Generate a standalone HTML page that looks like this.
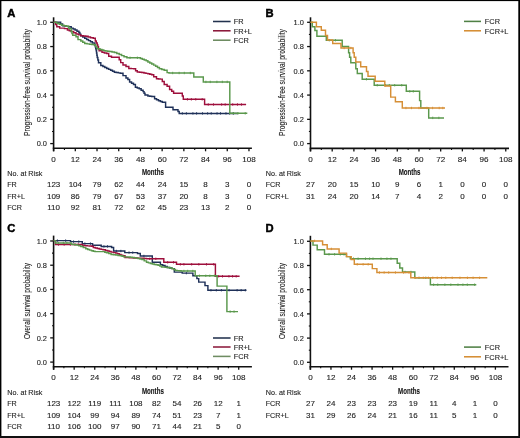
<!DOCTYPE html><html><head><meta charset="utf-8"><style>html,body{margin:0;padding:0;background:#fff;}svg{display:block;filter:blur(0.42px);}</style></head><body>
<svg width="520" height="438" viewBox="0 0 520 438" font-family='"Liberation Sans", sans-serif'><style>text{stroke:#1e1e1e;stroke-width:0.12px;}</style>
<rect x="0" y="0" width="520" height="438" fill="#fff"/>
<g stroke="#111" fill="none">
<line x1="53.60" y1="17.30" x2="53.60" y2="151.30" stroke-width="1.6"/>
<line x1="52.80" y1="148.30" x2="251.90" y2="148.30" stroke-width="1.6"/>
<line x1="50.20" y1="143.60" x2="53.60" y2="143.60" stroke-width="1.3"/>
<line x1="52.00" y1="131.47" x2="53.60" y2="131.47" stroke-width="1.1"/>
<line x1="50.20" y1="119.34" x2="53.60" y2="119.34" stroke-width="1.3"/>
<line x1="52.00" y1="107.21" x2="53.60" y2="107.21" stroke-width="1.1"/>
<line x1="50.20" y1="95.08" x2="53.60" y2="95.08" stroke-width="1.3"/>
<line x1="52.00" y1="82.95" x2="53.60" y2="82.95" stroke-width="1.1"/>
<line x1="50.20" y1="70.82" x2="53.60" y2="70.82" stroke-width="1.3"/>
<line x1="52.00" y1="58.69" x2="53.60" y2="58.69" stroke-width="1.1"/>
<line x1="50.20" y1="46.56" x2="53.60" y2="46.56" stroke-width="1.3"/>
<line x1="52.00" y1="34.43" x2="53.60" y2="34.43" stroke-width="1.1"/>
<line x1="50.20" y1="22.30" x2="53.60" y2="22.30" stroke-width="1.3"/>
<line x1="53.60" y1="148.30" x2="53.60" y2="151.30" stroke-width="1.3"/>
<line x1="64.45" y1="148.30" x2="64.45" y2="149.90" stroke-width="1.1"/>
<line x1="75.31" y1="148.30" x2="75.31" y2="151.30" stroke-width="1.3"/>
<line x1="86.16" y1="148.30" x2="86.16" y2="149.90" stroke-width="1.1"/>
<line x1="97.02" y1="148.30" x2="97.02" y2="151.30" stroke-width="1.3"/>
<line x1="107.87" y1="148.30" x2="107.87" y2="149.90" stroke-width="1.1"/>
<line x1="118.72" y1="148.30" x2="118.72" y2="151.30" stroke-width="1.3"/>
<line x1="129.58" y1="148.30" x2="129.58" y2="149.90" stroke-width="1.1"/>
<line x1="140.43" y1="148.30" x2="140.43" y2="151.30" stroke-width="1.3"/>
<line x1="151.29" y1="148.30" x2="151.29" y2="149.90" stroke-width="1.1"/>
<line x1="162.14" y1="148.30" x2="162.14" y2="151.30" stroke-width="1.3"/>
<line x1="172.99" y1="148.30" x2="172.99" y2="149.90" stroke-width="1.1"/>
<line x1="183.85" y1="148.30" x2="183.85" y2="151.30" stroke-width="1.3"/>
<line x1="194.70" y1="148.30" x2="194.70" y2="149.90" stroke-width="1.1"/>
<line x1="205.56" y1="148.30" x2="205.56" y2="151.30" stroke-width="1.3"/>
<line x1="216.41" y1="148.30" x2="216.41" y2="149.90" stroke-width="1.1"/>
<line x1="227.26" y1="148.30" x2="227.26" y2="151.30" stroke-width="1.3"/>
<line x1="238.12" y1="148.30" x2="238.12" y2="149.90" stroke-width="1.1"/>
<line x1="248.97" y1="148.30" x2="248.97" y2="151.30" stroke-width="1.3"/>
</g>
<text transform="translate(47.00,146.45) scale(0.930,1)" font-size="8.00" text-anchor="end" fill="#1e1e1e">0.0</text>
<text transform="translate(47.00,122.19) scale(0.930,1)" font-size="8.00" text-anchor="end" fill="#1e1e1e">0.2</text>
<text transform="translate(47.00,97.93) scale(0.930,1)" font-size="8.00" text-anchor="end" fill="#1e1e1e">0.4</text>
<text transform="translate(47.00,73.67) scale(0.930,1)" font-size="8.00" text-anchor="end" fill="#1e1e1e">0.6</text>
<text transform="translate(47.00,49.41) scale(0.930,1)" font-size="8.00" text-anchor="end" fill="#1e1e1e">0.8</text>
<text transform="translate(47.00,25.15) scale(0.930,1)" font-size="8.00" text-anchor="end" fill="#1e1e1e">1.0</text>
<text transform="translate(53.60,161.80) scale(1.000,1)" font-size="8.10" text-anchor="middle" fill="#1e1e1e">0</text>
<text transform="translate(75.31,161.80) scale(1.000,1)" font-size="8.10" text-anchor="middle" fill="#1e1e1e">12</text>
<text transform="translate(97.02,161.80) scale(1.000,1)" font-size="8.10" text-anchor="middle" fill="#1e1e1e">24</text>
<text transform="translate(118.72,161.80) scale(1.000,1)" font-size="8.10" text-anchor="middle" fill="#1e1e1e">36</text>
<text transform="translate(140.43,161.80) scale(1.000,1)" font-size="8.10" text-anchor="middle" fill="#1e1e1e">48</text>
<text transform="translate(162.14,161.80) scale(1.000,1)" font-size="8.10" text-anchor="middle" fill="#1e1e1e">60</text>
<text transform="translate(183.85,161.80) scale(1.000,1)" font-size="8.10" text-anchor="middle" fill="#1e1e1e">72</text>
<text transform="translate(205.56,161.80) scale(1.000,1)" font-size="8.10" text-anchor="middle" fill="#1e1e1e">84</text>
<text transform="translate(227.26,161.80) scale(1.000,1)" font-size="8.10" text-anchor="middle" fill="#1e1e1e">96</text>
<text transform="translate(248.97,161.80) scale(1.000,1)" font-size="8.10" text-anchor="middle" fill="#1e1e1e">108</text>
<text transform="translate(7.30,17.00) scale(1.07,1)" font-size="10.5" font-weight="bold" fill="#000" style="stroke:#000;stroke-width:0.45px">A</text>
<text transform="translate(30.20,82.60) rotate(-90) scale(0.765,1)" font-size="8.8" text-anchor="middle" fill="#1e1e1e">Progression-free survival probability</text>
<path d="M182.35,112.20v2.4M186.39,112.20v2.4M192.92,112.20v2.4M196.58,112.20v2.4M202.53,112.20v2.4M207.64,112.20v2.4M211.22,112.20v2.4M217.04,112.20v2.4M220.52,112.20v2.4M225.97,112.20v2.4M229.61,112.20v2.4M233.36,112.20v2.4" stroke="#1f3159" stroke-width="0.9" fill="none"/>
<path d="M53.60,22.30 L58.70,22.30 L60.65,22.30 L60.65,24.00 L62.60,24.00 L62.60,25.70 L64.50,25.70 L64.50,26.03 L66.40,26.03 L66.40,26.37 L68.30,26.37 L68.30,26.70 L71.20,26.70 L71.20,28.10 L73.15,28.10 L73.15,29.05 L75.10,29.05 L75.10,30.00 L77.00,30.00 L77.00,31.20 L78.90,31.20 L78.90,32.40 L79.85,32.40 L79.85,34.10 L80.80,34.10 L80.80,35.80 L82.75,35.80 L82.75,37.00 L84.70,37.00 L84.70,38.20 L86.60,38.20 L86.60,39.40 L88.50,39.40 L88.50,40.60 L90.45,40.60 L90.45,41.80 L92.40,41.80 L92.40,43.00 L94.80,43.00 L94.80,44.90 L95.27,44.90 L95.27,46.83 L95.73,46.83 L95.73,48.77 L96.20,48.77 L96.20,50.70 L96.53,50.70 L96.53,52.93 L96.87,52.93 L96.87,55.17 L97.20,55.17 L97.20,57.40 L97.85,57.40 L97.85,60.05 L98.50,60.05 L98.50,62.70 L100.80,62.70 L100.80,65.50 L102.90,65.50 L102.90,66.40 L104.80,66.40 L104.80,67.40 L106.70,67.40 L106.70,68.40 L108.65,68.40 L108.65,69.35 L110.60,69.35 L110.60,70.30 L112.50,70.30 L112.50,71.25 L114.40,71.25 L114.40,72.20 L116.33,72.20 L116.33,72.53 L118.27,72.53 L118.27,72.87 L120.20,72.87 L120.20,73.20 L123.00,73.20 L123.00,75.60 L126.00,75.60 L126.00,78.00 L127.90,78.00 L127.90,79.40 L129.60,79.40 L129.60,82.00 L131.55,82.00 L131.55,83.20 L133.50,83.20 L133.50,84.40 L135.40,84.40 L135.40,87.30 L137.30,87.30 L137.30,88.05 L139.20,88.05 L139.20,88.80 L141.15,88.80 L141.15,90.20 L143.10,90.20 L143.10,91.60 L144.05,91.60 L144.05,93.30 L145.00,93.30 L145.00,95.00 L147.90,95.00 L147.90,96.00 L149.80,96.00 L149.80,96.20 L151.70,96.20 L151.70,96.40 L154.60,96.40 L154.60,98.80 L156.55,98.80 L156.55,99.80 L158.50,99.80 L158.50,100.80 L160.40,100.80 L160.40,101.50 L162.30,101.50 L162.30,102.20 L165.60,102.20 L165.60,107.30 L173.00,107.30 L173.00,109.70 L176.80,109.70 L178.00,109.70 L178.00,111.55 L179.20,111.55 L179.20,113.40 L238.00,113.40" fill="none" stroke="#1f3159" stroke-width="1.45" stroke-linejoin="miter" stroke-linecap="butt"/>
<path d="M187.45,98.10v2.4M191.37,98.10v2.4M195.77,98.10v2.4M202.18,98.10v2.4M208.25,103.30v2.4M213.52,103.30v2.4M221.65,103.30v2.4M225.18,103.30v2.4M232.73,103.30v2.4M237.46,103.30v2.4M241.48,103.30v2.4" stroke="#9e0f3c" stroke-width="0.9" fill="none"/>
<path d="M53.60,22.30 L54.50,22.30 L55.65,22.30 L55.65,24.50 L56.80,24.50 L56.80,26.70 L59.70,26.70 L59.70,28.10 L62.10,28.10 L64.50,28.10 L64.50,28.60 L67.40,28.60 L67.40,30.00 L69.30,30.00 L69.30,30.75 L71.20,30.75 L71.20,31.50 L73.60,31.50 L73.60,32.70 L76.00,32.70 L76.00,33.90 L78.40,33.90 L78.40,34.85 L80.80,34.85 L80.80,35.80 L83.25,35.80 L83.25,36.05 L85.70,36.05 L85.70,36.30 L88.10,36.30 L88.10,37.00 L90.50,37.00 L90.50,37.70 L93.30,37.70 L93.30,38.20 L95.30,38.20 L95.30,41.00 L96.25,41.00 L96.25,42.95 L97.20,42.95 L97.20,44.90 L97.83,44.90 L97.83,46.83 L98.47,46.83 L98.47,48.77 L99.10,48.77 L99.10,50.70 L102.00,50.70 L102.00,52.30 L104.35,52.30 L104.35,52.90 L106.70,52.90 L106.70,53.50 L108.70,53.50 L108.70,56.30 L111.50,56.30 L111.50,57.30 L117.80,57.30 L119.20,57.30 L119.20,59.70 L120.70,59.70 L120.70,62.60 L123.00,62.60 L123.00,65.00 L126.00,65.00 L126.00,66.40 L128.80,66.40 L128.80,68.40 L131.25,68.40 L131.25,68.60 L133.70,68.60 L133.70,68.80 L135.60,68.80 L135.60,70.80 L137.30,70.80 L137.30,71.90 L139.53,71.90 L139.53,72.23 L141.77,72.23 L141.77,72.57 L144.00,72.57 L144.00,72.90 L145.95,72.90 L145.95,73.35 L147.90,73.35 L147.90,73.80 L149.80,73.80 L149.80,74.30 L151.70,74.30 L151.70,74.80 L153.70,74.80 L153.70,76.70 L156.50,76.70 L156.50,78.70 L158.45,78.70 L158.45,78.90 L160.40,78.90 L160.40,79.10 L162.30,79.10 L162.30,81.50 L164.20,81.50 L164.20,84.40 L167.10,84.40 L167.10,86.30 L169.60,86.30 L169.60,89.50 L171.70,89.50 L171.70,91.20 L173.60,91.20 L173.60,93.30 L181.50,93.30 L182.30,93.30 L182.30,96.00 L183.30,96.00 L183.30,99.30 L204.60,99.30 L204.60,104.50 L246.10,104.50" fill="none" stroke="#9e0f3c" stroke-width="1.45" stroke-linejoin="miter" stroke-linecap="butt"/>
<path d="M130.02,56.60v2.4M137.36,56.60v2.4M172.66,71.80v2.4M179.13,71.80v2.4M184.27,71.80v2.4M190.28,71.80v2.4M205.92,80.70v2.4M210.24,80.70v2.4M216.91,80.70v2.4M222.32,80.70v2.4M227.18,80.70v2.4M233.21,112.10v2.4M237.99,112.10v2.4M245.22,112.10v2.4" stroke="#5a984c" stroke-width="0.9" fill="none"/>
<path d="M53.60,22.30 L56.80,22.30 L56.80,23.30 L59.20,23.30 L59.20,24.25 L61.60,24.25 L61.60,25.20 L64.00,25.20 L64.00,25.70 L66.40,25.70 L66.40,26.20 L68.80,26.20 L68.80,28.60 L71.20,28.60 L71.20,31.50 L71.95,31.50 L71.95,33.40 L72.70,33.40 L72.70,35.30 L76.00,35.30 L76.00,36.80 L78.00,36.80 L78.00,39.60 L80.80,39.60 L80.80,41.00 L82.75,41.00 L82.75,42.25 L84.70,42.25 L84.70,43.50 L87.10,43.50 L87.10,43.85 L89.50,43.85 L89.50,44.20 L91.90,44.20 L91.90,44.55 L94.30,44.55 L94.30,44.90 L95.75,44.90 L95.75,46.85 L97.20,46.85 L97.20,48.80 L100.00,48.80 L100.00,49.50 L101.90,49.50 L101.90,50.05 L103.80,50.05 L103.80,50.60 L105.73,50.60 L105.73,50.90 L107.67,50.90 L107.67,51.20 L109.60,51.20 L109.60,51.50 L112.00,51.50 L112.00,52.00 L114.40,52.00 L114.40,52.50 L116.80,52.50 L116.80,53.45 L119.20,53.45 L119.20,54.40 L121.60,54.40 L121.60,55.60 L124.00,55.60 L124.00,56.80 L126.90,56.80 L126.90,57.80 L138.50,57.80 L140.40,57.80 L140.40,58.50 L142.30,58.50 L142.30,59.20 L144.25,59.20 L144.25,59.95 L146.20,59.95 L146.20,60.70 L147.90,60.70 L147.90,62.00 L149.80,62.00 L149.80,62.95 L151.70,62.95 L151.70,63.90 L153.65,63.90 L153.65,65.10 L155.60,65.10 L155.60,66.30 L157.50,66.30 L157.50,67.55 L159.40,67.55 L159.40,68.80 L161.80,68.80 L161.80,69.50 L164.20,69.50 L164.20,70.20 L167.10,70.20 L167.10,72.60 L169.00,72.60 L169.00,73.00 L193.80,73.00 L193.80,76.90 L203.30,76.90 L203.30,81.90 L229.80,81.90 L229.80,113.30 L247.30,113.30" fill="none" stroke="#5a984c" stroke-width="1.45" stroke-linejoin="miter" stroke-linecap="butt"/>
<line x1="213.00" y1="21.50" x2="230.60" y2="21.50" stroke="#22324e" stroke-width="1.55"/>
<text transform="translate(233.70,24.25) scale(0.937,1)" font-size="7.90" text-anchor="start" fill="#1e1e1e">FR</text>
<line x1="213.00" y1="30.80" x2="230.60" y2="30.80" stroke="#8c1a3c" stroke-width="1.55"/>
<text transform="translate(233.70,33.55) scale(0.937,1)" font-size="7.90" text-anchor="start" fill="#1e1e1e">FR+L</text>
<line x1="213.00" y1="40.20" x2="230.60" y2="40.20" stroke="#6e8c62" stroke-width="1.55"/>
<text transform="translate(233.70,42.95) scale(0.937,1)" font-size="7.90" text-anchor="start" fill="#1e1e1e">FCR</text>
<text transform="translate(7.20,175.60) scale(0.911,1)" font-size="7.90" text-anchor="start" fill="#1e1e1e">No. at Risk</text>
<text transform="translate(152.90,174.60) scale(0.64,1)" font-size="9.6" font-weight="bold" text-anchor="middle" fill="#111">Months</text>
<text transform="translate(7.20,187.15) scale(0.911,1)" font-size="7.90" text-anchor="start" fill="#1e1e1e">FR</text>
<text transform="translate(53.60,187.15) scale(1.000,1)" font-size="8.00" text-anchor="middle" fill="#1e1e1e">123</text>
<text transform="translate(75.31,187.15) scale(1.000,1)" font-size="8.00" text-anchor="middle" fill="#1e1e1e">104</text>
<text transform="translate(97.02,187.15) scale(1.000,1)" font-size="8.00" text-anchor="middle" fill="#1e1e1e">79</text>
<text transform="translate(118.72,187.15) scale(1.000,1)" font-size="8.00" text-anchor="middle" fill="#1e1e1e">62</text>
<text transform="translate(140.43,187.15) scale(1.000,1)" font-size="8.00" text-anchor="middle" fill="#1e1e1e">44</text>
<text transform="translate(162.14,187.15) scale(1.000,1)" font-size="8.00" text-anchor="middle" fill="#1e1e1e">24</text>
<text transform="translate(183.85,187.15) scale(1.000,1)" font-size="8.00" text-anchor="middle" fill="#1e1e1e">15</text>
<text transform="translate(205.56,187.15) scale(1.000,1)" font-size="8.00" text-anchor="middle" fill="#1e1e1e">8</text>
<text transform="translate(227.26,187.15) scale(1.000,1)" font-size="8.00" text-anchor="middle" fill="#1e1e1e">3</text>
<text transform="translate(248.97,187.15) scale(1.000,1)" font-size="8.00" text-anchor="middle" fill="#1e1e1e">0</text>
<text transform="translate(7.20,198.70) scale(0.911,1)" font-size="7.90" text-anchor="start" fill="#1e1e1e">FR+L</text>
<text transform="translate(53.60,198.70) scale(1.000,1)" font-size="8.00" text-anchor="middle" fill="#1e1e1e">109</text>
<text transform="translate(75.31,198.70) scale(1.000,1)" font-size="8.00" text-anchor="middle" fill="#1e1e1e">86</text>
<text transform="translate(97.02,198.70) scale(1.000,1)" font-size="8.00" text-anchor="middle" fill="#1e1e1e">79</text>
<text transform="translate(118.72,198.70) scale(1.000,1)" font-size="8.00" text-anchor="middle" fill="#1e1e1e">67</text>
<text transform="translate(140.43,198.70) scale(1.000,1)" font-size="8.00" text-anchor="middle" fill="#1e1e1e">53</text>
<text transform="translate(162.14,198.70) scale(1.000,1)" font-size="8.00" text-anchor="middle" fill="#1e1e1e">37</text>
<text transform="translate(183.85,198.70) scale(1.000,1)" font-size="8.00" text-anchor="middle" fill="#1e1e1e">20</text>
<text transform="translate(205.56,198.70) scale(1.000,1)" font-size="8.00" text-anchor="middle" fill="#1e1e1e">8</text>
<text transform="translate(227.26,198.70) scale(1.000,1)" font-size="8.00" text-anchor="middle" fill="#1e1e1e">3</text>
<text transform="translate(248.97,198.70) scale(1.000,1)" font-size="8.00" text-anchor="middle" fill="#1e1e1e">0</text>
<text transform="translate(7.20,210.25) scale(0.911,1)" font-size="7.90" text-anchor="start" fill="#1e1e1e">FCR</text>
<text transform="translate(53.60,210.25) scale(1.000,1)" font-size="8.00" text-anchor="middle" fill="#1e1e1e">110</text>
<text transform="translate(75.31,210.25) scale(1.000,1)" font-size="8.00" text-anchor="middle" fill="#1e1e1e">92</text>
<text transform="translate(97.02,210.25) scale(1.000,1)" font-size="8.00" text-anchor="middle" fill="#1e1e1e">81</text>
<text transform="translate(118.72,210.25) scale(1.000,1)" font-size="8.00" text-anchor="middle" fill="#1e1e1e">72</text>
<text transform="translate(140.43,210.25) scale(1.000,1)" font-size="8.00" text-anchor="middle" fill="#1e1e1e">62</text>
<text transform="translate(162.14,210.25) scale(1.000,1)" font-size="8.00" text-anchor="middle" fill="#1e1e1e">45</text>
<text transform="translate(183.85,210.25) scale(1.000,1)" font-size="8.00" text-anchor="middle" fill="#1e1e1e">23</text>
<text transform="translate(205.56,210.25) scale(1.000,1)" font-size="8.00" text-anchor="middle" fill="#1e1e1e">13</text>
<text transform="translate(227.26,210.25) scale(1.000,1)" font-size="8.00" text-anchor="middle" fill="#1e1e1e">2</text>
<text transform="translate(248.97,210.25) scale(1.000,1)" font-size="8.00" text-anchor="middle" fill="#1e1e1e">0</text>
<g stroke="#111" fill="none">
<line x1="310.50" y1="17.30" x2="310.50" y2="151.40" stroke-width="1.6"/>
<line x1="309.70" y1="148.40" x2="509.00" y2="148.40" stroke-width="1.6"/>
<line x1="307.10" y1="143.60" x2="310.50" y2="143.60" stroke-width="1.3"/>
<line x1="308.90" y1="131.47" x2="310.50" y2="131.47" stroke-width="1.1"/>
<line x1="307.10" y1="119.34" x2="310.50" y2="119.34" stroke-width="1.3"/>
<line x1="308.90" y1="107.21" x2="310.50" y2="107.21" stroke-width="1.1"/>
<line x1="307.10" y1="95.08" x2="310.50" y2="95.08" stroke-width="1.3"/>
<line x1="308.90" y1="82.95" x2="310.50" y2="82.95" stroke-width="1.1"/>
<line x1="307.10" y1="70.82" x2="310.50" y2="70.82" stroke-width="1.3"/>
<line x1="308.90" y1="58.69" x2="310.50" y2="58.69" stroke-width="1.1"/>
<line x1="307.10" y1="46.56" x2="310.50" y2="46.56" stroke-width="1.3"/>
<line x1="308.90" y1="34.43" x2="310.50" y2="34.43" stroke-width="1.1"/>
<line x1="307.10" y1="22.30" x2="310.50" y2="22.30" stroke-width="1.3"/>
<line x1="310.50" y1="148.40" x2="310.50" y2="151.40" stroke-width="1.3"/>
<line x1="321.35" y1="148.40" x2="321.35" y2="150.00" stroke-width="1.1"/>
<line x1="332.20" y1="148.40" x2="332.20" y2="151.40" stroke-width="1.3"/>
<line x1="343.04" y1="148.40" x2="343.04" y2="150.00" stroke-width="1.1"/>
<line x1="353.89" y1="148.40" x2="353.89" y2="151.40" stroke-width="1.3"/>
<line x1="364.74" y1="148.40" x2="364.74" y2="150.00" stroke-width="1.1"/>
<line x1="375.59" y1="148.40" x2="375.59" y2="151.40" stroke-width="1.3"/>
<line x1="386.44" y1="148.40" x2="386.44" y2="150.00" stroke-width="1.1"/>
<line x1="397.28" y1="148.40" x2="397.28" y2="151.40" stroke-width="1.3"/>
<line x1="408.13" y1="148.40" x2="408.13" y2="150.00" stroke-width="1.1"/>
<line x1="418.98" y1="148.40" x2="418.98" y2="151.40" stroke-width="1.3"/>
<line x1="429.83" y1="148.40" x2="429.83" y2="150.00" stroke-width="1.1"/>
<line x1="440.68" y1="148.40" x2="440.68" y2="151.40" stroke-width="1.3"/>
<line x1="451.52" y1="148.40" x2="451.52" y2="150.00" stroke-width="1.1"/>
<line x1="462.37" y1="148.40" x2="462.37" y2="151.40" stroke-width="1.3"/>
<line x1="473.22" y1="148.40" x2="473.22" y2="150.00" stroke-width="1.1"/>
<line x1="484.07" y1="148.40" x2="484.07" y2="151.40" stroke-width="1.3"/>
<line x1="494.92" y1="148.40" x2="494.92" y2="150.00" stroke-width="1.1"/>
<line x1="505.76" y1="148.40" x2="505.76" y2="151.40" stroke-width="1.3"/>
</g>
<text transform="translate(303.90,146.45) scale(0.930,1)" font-size="8.00" text-anchor="end" fill="#1e1e1e">0.0</text>
<text transform="translate(303.90,122.19) scale(0.930,1)" font-size="8.00" text-anchor="end" fill="#1e1e1e">0.2</text>
<text transform="translate(303.90,97.93) scale(0.930,1)" font-size="8.00" text-anchor="end" fill="#1e1e1e">0.4</text>
<text transform="translate(303.90,73.67) scale(0.930,1)" font-size="8.00" text-anchor="end" fill="#1e1e1e">0.6</text>
<text transform="translate(303.90,49.41) scale(0.930,1)" font-size="8.00" text-anchor="end" fill="#1e1e1e">0.8</text>
<text transform="translate(303.90,25.15) scale(0.930,1)" font-size="8.00" text-anchor="end" fill="#1e1e1e">1.0</text>
<text transform="translate(310.50,161.80) scale(1.000,1)" font-size="8.10" text-anchor="middle" fill="#1e1e1e">0</text>
<text transform="translate(332.20,161.80) scale(1.000,1)" font-size="8.10" text-anchor="middle" fill="#1e1e1e">12</text>
<text transform="translate(353.89,161.80) scale(1.000,1)" font-size="8.10" text-anchor="middle" fill="#1e1e1e">24</text>
<text transform="translate(375.59,161.80) scale(1.000,1)" font-size="8.10" text-anchor="middle" fill="#1e1e1e">36</text>
<text transform="translate(397.28,161.80) scale(1.000,1)" font-size="8.10" text-anchor="middle" fill="#1e1e1e">48</text>
<text transform="translate(418.98,161.80) scale(1.000,1)" font-size="8.10" text-anchor="middle" fill="#1e1e1e">60</text>
<text transform="translate(440.68,161.80) scale(1.000,1)" font-size="8.10" text-anchor="middle" fill="#1e1e1e">72</text>
<text transform="translate(462.37,161.80) scale(1.000,1)" font-size="8.10" text-anchor="middle" fill="#1e1e1e">84</text>
<text transform="translate(484.07,161.80) scale(1.000,1)" font-size="8.10" text-anchor="middle" fill="#1e1e1e">96</text>
<text transform="translate(505.76,161.80) scale(1.000,1)" font-size="8.10" text-anchor="middle" fill="#1e1e1e">108</text>
<text transform="translate(265.60,17.00) scale(1.07,1)" font-size="10.5" font-weight="bold" fill="#000" style="stroke:#000;stroke-width:0.45px">B</text>
<text transform="translate(285.20,82.60) rotate(-90) scale(0.765,1)" font-size="8.8" text-anchor="middle" fill="#1e1e1e">Progression-free survival probability</text>
<path d="M329.29,39.00v2.4M335.43,39.00v2.4M366.45,78.00v2.4M377.28,84.00v2.4M385.43,84.00v2.4M389.31,84.00v2.4M394.68,84.00v2.4M401.73,84.00v2.4M409.78,90.10v2.4M413.27,90.10v2.4M432.73,116.70v2.4M438.87,116.70v2.4" stroke="#5a984c" stroke-width="0.9" fill="none"/>
<path d="M310.50,22.30 L312.30,22.30 L312.30,26.70 L314.90,26.70 L314.90,30.40 L316.90,30.40 L316.90,36.30 L326.30,36.30 L326.30,40.20 L342.20,40.20 L342.20,46.50 L348.60,46.50 L348.60,52.70 L349.60,52.70 L349.60,57.30 L350.80,57.30 L350.80,62.70 L355.80,62.70 L355.80,68.80 L357.30,68.80 L357.30,73.50 L362.20,73.50 L362.20,79.20 L374.20,79.20 L374.20,85.20 L406.30,85.20 L406.30,91.30 L419.60,91.30 L419.60,100.60 L420.80,100.60 L420.80,108.00 L428.70,108.00 L428.70,117.90 L444.00,117.90" fill="none" stroke="#5a984c" stroke-width="1.45" stroke-linejoin="miter" stroke-linecap="butt"/>
<path d="M344.13,46.80v2.4M350.87,46.80v2.4M405.96,106.80v2.4M411.52,106.80v2.4M418.98,106.80v2.4M426.95,106.80v2.4M432.60,106.80v2.4M439.19,106.80v2.4M442.79,106.80v2.4" stroke="#d68f36" stroke-width="0.9" fill="none"/>
<path d="M310.50,22.30 L316.40,22.30 L316.40,26.70 L321.30,26.70 L321.30,30.30 L325.50,30.30 L325.50,35.50 L327.50,35.50 L327.50,39.90 L332.70,39.90 L332.70,43.40 L341.00,43.40 L341.00,48.00 L353.10,48.00 L353.10,52.70 L354.20,52.70 L354.20,57.30 L355.80,57.30 L355.80,61.90 L360.70,61.90 L360.70,66.70 L366.50,66.70 L366.50,71.50 L368.00,71.50 L368.00,76.30 L375.20,76.30 L375.20,81.20 L384.80,81.20 L384.80,85.90 L390.70,85.90 L390.70,97.10 L395.40,97.10 L395.40,101.70 L402.30,101.70 L402.30,108.00 L445.00,108.00" fill="none" stroke="#d68f36" stroke-width="1.45" stroke-linejoin="miter" stroke-linecap="butt"/>
<line x1="464.00" y1="21.40" x2="481.00" y2="21.40" stroke="#4f8045" stroke-width="1.55"/>
<text transform="translate(484.80,24.15) scale(0.937,1)" font-size="7.90" text-anchor="start" fill="#1e1e1e">FCR</text>
<line x1="464.00" y1="30.80" x2="481.00" y2="30.80" stroke="#d68f36" stroke-width="1.55"/>
<text transform="translate(484.80,33.55) scale(0.937,1)" font-size="7.90" text-anchor="start" fill="#1e1e1e">FCR+L</text>
<text transform="translate(265.70,175.60) scale(0.911,1)" font-size="7.90" text-anchor="start" fill="#1e1e1e">No. at Risk</text>
<text transform="translate(409.60,174.60) scale(0.64,1)" font-size="9.6" font-weight="bold" text-anchor="middle" fill="#111">Months</text>
<text transform="translate(265.70,187.15) scale(0.911,1)" font-size="7.90" text-anchor="start" fill="#1e1e1e">FCR</text>
<text transform="translate(310.50,187.15) scale(1.000,1)" font-size="8.00" text-anchor="middle" fill="#1e1e1e">27</text>
<text transform="translate(332.20,187.15) scale(1.000,1)" font-size="8.00" text-anchor="middle" fill="#1e1e1e">20</text>
<text transform="translate(353.89,187.15) scale(1.000,1)" font-size="8.00" text-anchor="middle" fill="#1e1e1e">15</text>
<text transform="translate(375.59,187.15) scale(1.000,1)" font-size="8.00" text-anchor="middle" fill="#1e1e1e">10</text>
<text transform="translate(397.28,187.15) scale(1.000,1)" font-size="8.00" text-anchor="middle" fill="#1e1e1e">9</text>
<text transform="translate(418.98,187.15) scale(1.000,1)" font-size="8.00" text-anchor="middle" fill="#1e1e1e">6</text>
<text transform="translate(440.68,187.15) scale(1.000,1)" font-size="8.00" text-anchor="middle" fill="#1e1e1e">1</text>
<text transform="translate(462.37,187.15) scale(1.000,1)" font-size="8.00" text-anchor="middle" fill="#1e1e1e">0</text>
<text transform="translate(484.07,187.15) scale(1.000,1)" font-size="8.00" text-anchor="middle" fill="#1e1e1e">0</text>
<text transform="translate(505.76,187.15) scale(1.000,1)" font-size="8.00" text-anchor="middle" fill="#1e1e1e">0</text>
<text transform="translate(265.70,198.70) scale(0.911,1)" font-size="7.90" text-anchor="start" fill="#1e1e1e">FCR+L</text>
<text transform="translate(310.50,198.70) scale(1.000,1)" font-size="8.00" text-anchor="middle" fill="#1e1e1e">31</text>
<text transform="translate(332.20,198.70) scale(1.000,1)" font-size="8.00" text-anchor="middle" fill="#1e1e1e">24</text>
<text transform="translate(353.89,198.70) scale(1.000,1)" font-size="8.00" text-anchor="middle" fill="#1e1e1e">20</text>
<text transform="translate(375.59,198.70) scale(1.000,1)" font-size="8.00" text-anchor="middle" fill="#1e1e1e">14</text>
<text transform="translate(397.28,198.70) scale(1.000,1)" font-size="8.00" text-anchor="middle" fill="#1e1e1e">7</text>
<text transform="translate(418.98,198.70) scale(1.000,1)" font-size="8.00" text-anchor="middle" fill="#1e1e1e">4</text>
<text transform="translate(440.68,198.70) scale(1.000,1)" font-size="8.00" text-anchor="middle" fill="#1e1e1e">2</text>
<text transform="translate(462.37,198.70) scale(1.000,1)" font-size="8.00" text-anchor="middle" fill="#1e1e1e">0</text>
<text transform="translate(484.07,198.70) scale(1.000,1)" font-size="8.00" text-anchor="middle" fill="#1e1e1e">0</text>
<text transform="translate(505.76,198.70) scale(1.000,1)" font-size="8.00" text-anchor="middle" fill="#1e1e1e">0</text>
<g stroke="#111" fill="none">
<line x1="53.60" y1="235.60" x2="53.60" y2="369.70" stroke-width="1.6"/>
<line x1="52.80" y1="366.70" x2="251.90" y2="366.70" stroke-width="1.6"/>
<line x1="50.20" y1="362.10" x2="53.60" y2="362.10" stroke-width="1.3"/>
<line x1="52.00" y1="349.99" x2="53.60" y2="349.99" stroke-width="1.1"/>
<line x1="50.20" y1="337.88" x2="53.60" y2="337.88" stroke-width="1.3"/>
<line x1="52.00" y1="325.77" x2="53.60" y2="325.77" stroke-width="1.1"/>
<line x1="50.20" y1="313.66" x2="53.60" y2="313.66" stroke-width="1.3"/>
<line x1="52.00" y1="301.55" x2="53.60" y2="301.55" stroke-width="1.1"/>
<line x1="50.20" y1="289.44" x2="53.60" y2="289.44" stroke-width="1.3"/>
<line x1="52.00" y1="277.33" x2="53.60" y2="277.33" stroke-width="1.1"/>
<line x1="50.20" y1="265.22" x2="53.60" y2="265.22" stroke-width="1.3"/>
<line x1="52.00" y1="253.11" x2="53.60" y2="253.11" stroke-width="1.1"/>
<line x1="50.20" y1="241.00" x2="53.60" y2="241.00" stroke-width="1.3"/>
<line x1="53.60" y1="366.70" x2="53.60" y2="369.70" stroke-width="1.3"/>
<line x1="63.88" y1="366.70" x2="63.88" y2="368.30" stroke-width="1.1"/>
<line x1="74.17" y1="366.70" x2="74.17" y2="369.70" stroke-width="1.3"/>
<line x1="84.45" y1="366.70" x2="84.45" y2="368.30" stroke-width="1.1"/>
<line x1="94.74" y1="366.70" x2="94.74" y2="369.70" stroke-width="1.3"/>
<line x1="105.02" y1="366.70" x2="105.02" y2="368.30" stroke-width="1.1"/>
<line x1="115.30" y1="366.70" x2="115.30" y2="369.70" stroke-width="1.3"/>
<line x1="125.59" y1="366.70" x2="125.59" y2="368.30" stroke-width="1.1"/>
<line x1="135.87" y1="366.70" x2="135.87" y2="369.70" stroke-width="1.3"/>
<line x1="146.16" y1="366.70" x2="146.16" y2="368.30" stroke-width="1.1"/>
<line x1="156.44" y1="366.70" x2="156.44" y2="369.70" stroke-width="1.3"/>
<line x1="166.72" y1="366.70" x2="166.72" y2="368.30" stroke-width="1.1"/>
<line x1="177.01" y1="366.70" x2="177.01" y2="369.70" stroke-width="1.3"/>
<line x1="187.29" y1="366.70" x2="187.29" y2="368.30" stroke-width="1.1"/>
<line x1="197.58" y1="366.70" x2="197.58" y2="369.70" stroke-width="1.3"/>
<line x1="207.86" y1="366.70" x2="207.86" y2="368.30" stroke-width="1.1"/>
<line x1="218.14" y1="366.70" x2="218.14" y2="369.70" stroke-width="1.3"/>
<line x1="228.43" y1="366.70" x2="228.43" y2="368.30" stroke-width="1.1"/>
<line x1="238.71" y1="366.70" x2="238.71" y2="369.70" stroke-width="1.3"/>
</g>
<text transform="translate(47.00,364.95) scale(0.930,1)" font-size="8.00" text-anchor="end" fill="#1e1e1e">0.0</text>
<text transform="translate(47.00,340.73) scale(0.930,1)" font-size="8.00" text-anchor="end" fill="#1e1e1e">0.2</text>
<text transform="translate(47.00,316.51) scale(0.930,1)" font-size="8.00" text-anchor="end" fill="#1e1e1e">0.4</text>
<text transform="translate(47.00,292.29) scale(0.930,1)" font-size="8.00" text-anchor="end" fill="#1e1e1e">0.6</text>
<text transform="translate(47.00,268.07) scale(0.930,1)" font-size="8.00" text-anchor="end" fill="#1e1e1e">0.8</text>
<text transform="translate(47.00,243.85) scale(0.930,1)" font-size="8.00" text-anchor="end" fill="#1e1e1e">1.0</text>
<text transform="translate(53.60,380.40) scale(1.000,1)" font-size="8.10" text-anchor="middle" fill="#1e1e1e">0</text>
<text transform="translate(74.17,380.40) scale(1.000,1)" font-size="8.10" text-anchor="middle" fill="#1e1e1e">12</text>
<text transform="translate(94.74,380.40) scale(1.000,1)" font-size="8.10" text-anchor="middle" fill="#1e1e1e">24</text>
<text transform="translate(115.30,380.40) scale(1.000,1)" font-size="8.10" text-anchor="middle" fill="#1e1e1e">36</text>
<text transform="translate(135.87,380.40) scale(1.000,1)" font-size="8.10" text-anchor="middle" fill="#1e1e1e">48</text>
<text transform="translate(156.44,380.40) scale(1.000,1)" font-size="8.10" text-anchor="middle" fill="#1e1e1e">60</text>
<text transform="translate(177.01,380.40) scale(1.000,1)" font-size="8.10" text-anchor="middle" fill="#1e1e1e">72</text>
<text transform="translate(197.58,380.40) scale(1.000,1)" font-size="8.10" text-anchor="middle" fill="#1e1e1e">84</text>
<text transform="translate(218.14,380.40) scale(1.000,1)" font-size="8.10" text-anchor="middle" fill="#1e1e1e">96</text>
<text transform="translate(238.71,380.40) scale(1.000,1)" font-size="8.10" text-anchor="middle" fill="#1e1e1e">108</text>
<text transform="translate(7.30,231.90) scale(1.07,1)" font-size="10.5" font-weight="bold" fill="#000" style="stroke:#000;stroke-width:0.45px">C</text>
<text transform="translate(30.20,301.00) rotate(-90) scale(0.740,1)" font-size="8.8" text-anchor="middle" fill="#1e1e1e">Overall survival probability</text>
<path d="M57.39,239.40v2.4M65.61,239.40v2.4M73.57,240.40v2.4M78.78,240.40v2.4M84.85,242.40v2.4M90.43,242.40v2.4M103.93,245.20v2.4M107.53,245.20v2.4M116.36,249.80v2.4M120.88,249.80v2.4M129.04,251.40v2.4M132.74,251.40v2.4M143.90,254.80v2.4M186.34,271.90v2.4M210.96,289.00v2.4M216.31,289.00v2.4M221.39,289.00v2.4M229.07,289.00v2.4M237.11,289.00v2.4M241.15,289.00v2.4M245.33,289.00v2.4" stroke="#1f3159" stroke-width="0.9" fill="none"/>
<path d="M53.60,240.60 L70.50,240.60 L70.50,241.60 L82.30,241.60 L82.30,243.60 L92.60,243.60 L92.60,245.20 L101.20,245.20 L101.20,246.40 L111.60,246.40 L111.60,247.50 L113.60,247.50 L113.60,251.00 L124.80,251.00 L124.80,252.60 L137.50,252.60 L137.50,253.40 L140.30,253.40 L140.30,256.00 L152.30,256.00 L152.30,262.30 L158.10,262.30 L160.40,262.30 L160.40,264.60 L162.70,264.60 L162.70,265.57 L165.00,265.57 L165.00,266.53 L167.30,266.53 L167.30,267.50 L169.60,267.50 L169.60,268.05 L171.90,268.05 L171.90,268.60 L174.30,268.60 L174.30,272.10 L182.20,272.10 L182.20,273.10 L192.90,273.10 L192.90,275.80 L196.90,275.80 L196.90,278.60 L198.70,278.60 L198.70,282.10 L205.00,282.10 L205.00,285.60 L207.90,285.60 L207.90,290.20 L246.50,290.20" fill="none" stroke="#1f3159" stroke-width="1.45" stroke-linejoin="miter" stroke-linecap="butt"/>
<path d="M58.47,243.30v2.4M64.17,243.30v2.4M70.38,243.30v2.4M74.98,243.30v2.4M78.30,243.30v2.4M149.74,257.60v2.4M155.84,257.60v2.4M167.68,261.10v2.4M173.53,261.10v2.4M180.35,263.10v2.4M183.92,263.10v2.4M191.67,263.10v2.4M198.83,263.10v2.4M206.46,263.10v2.4M213.71,263.10v2.4M218.70,275.10v2.4M222.51,275.10v2.4M228.95,275.10v2.4M232.56,275.10v2.4M236.19,275.10v2.4" stroke="#9e0f3c" stroke-width="0.9" fill="none"/>
<path d="M53.60,240.60 L55.50,240.60 L55.50,244.50 L81.50,244.50 L82.80,244.50 L82.80,245.50 L84.97,245.50 L84.97,245.68 L87.15,245.68 L87.15,245.85 L89.33,245.85 L89.33,246.02 L91.50,246.02 L91.50,246.20 L93.30,246.20 L93.30,247.50 L95.30,247.50 L95.30,248.00 L97.30,248.00 L97.30,248.50 L99.23,248.50 L99.23,248.93 L101.17,248.93 L101.17,249.37 L103.10,249.37 L103.10,249.80 L105.40,249.80 L105.40,250.40 L107.70,250.40 L107.70,251.00 L109.40,251.00 L109.40,251.55 L111.10,251.55 L111.10,252.10 L113.45,252.10 L113.45,252.60 L115.80,252.60 L115.80,253.10 L117.50,253.10 L117.50,253.80 L119.20,253.80 L119.20,254.50 L120.95,254.50 L120.95,255.15 L122.70,255.15 L122.70,255.80 L125.00,255.80 L125.00,257.50 L127.11,257.50 L127.11,257.60 L129.22,257.60 L129.22,257.70 L131.34,257.70 L131.34,257.80 L133.45,257.80 L133.45,257.90 L135.56,257.90 L135.56,258.00 L137.68,258.00 L137.68,258.10 L139.79,258.10 L139.79,258.20 L141.90,258.20 L141.90,258.30 L144.20,258.30 L144.20,258.55 L146.50,258.55 L146.50,258.80 L163.80,258.80 L163.80,262.30 L176.50,262.30 L176.50,264.30 L215.40,264.30 L215.40,276.30 L239.60,276.30" fill="none" stroke="#9e0f3c" stroke-width="1.45" stroke-linejoin="miter" stroke-linecap="butt"/>
<path d="M58.32,241.70v2.4M63.31,241.70v2.4M66.87,241.70v2.4M183.90,269.80v2.4M187.70,269.80v2.4M192.80,269.80v2.4M199.45,274.60v2.4M205.79,274.60v2.4M209.82,274.60v2.4M214.37,274.60v2.4M230.13,310.40v2.4M234.04,310.40v2.4" stroke="#5a984c" stroke-width="0.9" fill="none"/>
<path d="M53.60,240.60 L55.50,240.60 L55.50,242.90 L69.30,242.90 L71.20,242.90 L71.20,244.20 L73.13,244.20 L73.13,244.50 L75.07,244.50 L75.07,244.80 L77.00,244.80 L77.00,245.10 L78.90,245.10 L78.90,245.80 L80.80,245.80 L80.80,246.50 L83.30,246.50 L83.30,247.60 L85.80,247.60 L85.80,248.70 L87.70,248.70 L87.70,249.40 L89.60,249.40 L89.60,250.10 L91.50,250.10 L91.50,250.80 L93.25,250.80 L93.25,251.20 L95.00,251.20 L95.00,251.60 L103.10,251.60 L104.80,251.60 L104.80,252.15 L106.50,252.15 L106.50,252.70 L108.80,252.70 L108.80,253.60 L111.10,253.60 L111.10,254.50 L113.45,254.50 L113.45,254.75 L115.80,254.75 L115.80,255.00 L118.10,255.00 L118.10,255.40 L120.40,255.40 L120.40,255.80 L122.10,255.80 L122.10,256.30 L123.80,256.30 L123.80,256.80 L128.40,257.00 L130.33,257.00 L130.33,257.23 L132.27,257.23 L132.27,257.47 L134.20,257.47 L134.20,257.70 L136.12,257.70 L136.12,258.12 L138.05,258.12 L138.05,258.55 L139.97,258.55 L139.97,258.97 L141.90,258.97 L141.90,259.40 L144.20,259.40 L144.20,260.85 L146.50,260.85 L146.50,262.30 L148.43,262.30 L148.43,262.87 L150.37,262.87 L150.37,263.43 L152.30,263.43 L152.30,264.00 L154.23,264.00 L154.23,264.40 L156.17,264.40 L156.17,264.80 L158.10,264.80 L158.10,265.20 L159.80,265.20 L159.80,266.05 L161.50,266.05 L161.50,266.90 L163.43,266.90 L163.43,267.10 L165.37,267.10 L165.37,267.30 L167.30,267.30 L167.30,267.50 L169.60,267.50 L169.60,268.05 L171.90,268.05 L171.90,268.60 L173.65,268.60 L173.65,269.50 L175.40,269.50 L175.40,270.40 L177.30,270.40 L177.30,270.60 L179.20,270.60 L179.20,270.80 L181.10,270.80 L181.10,271.00 L195.20,271.00 L195.20,275.80 L217.10,275.80 L217.10,286.10 L226.90,286.10 L226.90,311.60 L238.00,311.60" fill="none" stroke="#5a984c" stroke-width="1.45" stroke-linejoin="miter" stroke-linecap="butt"/>
<line x1="213.00" y1="338.00" x2="230.60" y2="338.00" stroke="#22324e" stroke-width="1.55"/>
<text transform="translate(233.70,340.75) scale(0.937,1)" font-size="7.90" text-anchor="start" fill="#1e1e1e">FR</text>
<line x1="213.00" y1="347.00" x2="230.60" y2="347.00" stroke="#8c1a3c" stroke-width="1.55"/>
<text transform="translate(233.70,349.75) scale(0.937,1)" font-size="7.90" text-anchor="start" fill="#1e1e1e">FR+L</text>
<line x1="213.00" y1="356.40" x2="230.60" y2="356.40" stroke="#6e8c62" stroke-width="1.55"/>
<text transform="translate(233.70,359.15) scale(0.937,1)" font-size="7.90" text-anchor="start" fill="#1e1e1e">FCR</text>
<text transform="translate(7.20,394.60) scale(0.911,1)" font-size="7.90" text-anchor="start" fill="#1e1e1e">No. at Risk</text>
<text transform="translate(152.90,393.60) scale(0.64,1)" font-size="9.6" font-weight="bold" text-anchor="middle" fill="#111">Months</text>
<text transform="translate(7.20,406.15) scale(0.911,1)" font-size="7.90" text-anchor="start" fill="#1e1e1e">FR</text>
<text transform="translate(53.60,406.15) scale(1.000,1)" font-size="8.00" text-anchor="middle" fill="#1e1e1e">123</text>
<text transform="translate(74.17,406.15) scale(1.000,1)" font-size="8.00" text-anchor="middle" fill="#1e1e1e">122</text>
<text transform="translate(94.74,406.15) scale(1.000,1)" font-size="8.00" text-anchor="middle" fill="#1e1e1e">119</text>
<text transform="translate(115.30,406.15) scale(1.000,1)" font-size="8.00" text-anchor="middle" fill="#1e1e1e">111</text>
<text transform="translate(135.87,406.15) scale(1.000,1)" font-size="8.00" text-anchor="middle" fill="#1e1e1e">108</text>
<text transform="translate(156.44,406.15) scale(1.000,1)" font-size="8.00" text-anchor="middle" fill="#1e1e1e">82</text>
<text transform="translate(177.01,406.15) scale(1.000,1)" font-size="8.00" text-anchor="middle" fill="#1e1e1e">54</text>
<text transform="translate(197.58,406.15) scale(1.000,1)" font-size="8.00" text-anchor="middle" fill="#1e1e1e">26</text>
<text transform="translate(218.14,406.15) scale(1.000,1)" font-size="8.00" text-anchor="middle" fill="#1e1e1e">12</text>
<text transform="translate(238.71,406.15) scale(1.000,1)" font-size="8.00" text-anchor="middle" fill="#1e1e1e">1</text>
<text transform="translate(7.20,417.70) scale(0.911,1)" font-size="7.90" text-anchor="start" fill="#1e1e1e">FR+L</text>
<text transform="translate(53.60,417.70) scale(1.000,1)" font-size="8.00" text-anchor="middle" fill="#1e1e1e">109</text>
<text transform="translate(74.17,417.70) scale(1.000,1)" font-size="8.00" text-anchor="middle" fill="#1e1e1e">104</text>
<text transform="translate(94.74,417.70) scale(1.000,1)" font-size="8.00" text-anchor="middle" fill="#1e1e1e">99</text>
<text transform="translate(115.30,417.70) scale(1.000,1)" font-size="8.00" text-anchor="middle" fill="#1e1e1e">94</text>
<text transform="translate(135.87,417.70) scale(1.000,1)" font-size="8.00" text-anchor="middle" fill="#1e1e1e">89</text>
<text transform="translate(156.44,417.70) scale(1.000,1)" font-size="8.00" text-anchor="middle" fill="#1e1e1e">74</text>
<text transform="translate(177.01,417.70) scale(1.000,1)" font-size="8.00" text-anchor="middle" fill="#1e1e1e">51</text>
<text transform="translate(197.58,417.70) scale(1.000,1)" font-size="8.00" text-anchor="middle" fill="#1e1e1e">23</text>
<text transform="translate(218.14,417.70) scale(1.000,1)" font-size="8.00" text-anchor="middle" fill="#1e1e1e">7</text>
<text transform="translate(238.71,417.70) scale(1.000,1)" font-size="8.00" text-anchor="middle" fill="#1e1e1e">1</text>
<text transform="translate(7.20,429.25) scale(0.911,1)" font-size="7.90" text-anchor="start" fill="#1e1e1e">FCR</text>
<text transform="translate(53.60,429.25) scale(1.000,1)" font-size="8.00" text-anchor="middle" fill="#1e1e1e">110</text>
<text transform="translate(74.17,429.25) scale(1.000,1)" font-size="8.00" text-anchor="middle" fill="#1e1e1e">106</text>
<text transform="translate(94.74,429.25) scale(1.000,1)" font-size="8.00" text-anchor="middle" fill="#1e1e1e">100</text>
<text transform="translate(115.30,429.25) scale(1.000,1)" font-size="8.00" text-anchor="middle" fill="#1e1e1e">97</text>
<text transform="translate(135.87,429.25) scale(1.000,1)" font-size="8.00" text-anchor="middle" fill="#1e1e1e">90</text>
<text transform="translate(156.44,429.25) scale(1.000,1)" font-size="8.00" text-anchor="middle" fill="#1e1e1e">71</text>
<text transform="translate(177.01,429.25) scale(1.000,1)" font-size="8.00" text-anchor="middle" fill="#1e1e1e">44</text>
<text transform="translate(197.58,429.25) scale(1.000,1)" font-size="8.00" text-anchor="middle" fill="#1e1e1e">21</text>
<text transform="translate(218.14,429.25) scale(1.000,1)" font-size="8.00" text-anchor="middle" fill="#1e1e1e">5</text>
<text transform="translate(238.71,429.25) scale(1.000,1)" font-size="8.00" text-anchor="middle" fill="#1e1e1e">0</text>
<g stroke="#111" fill="none">
<line x1="310.40" y1="235.80" x2="310.40" y2="369.70" stroke-width="1.6"/>
<line x1="309.60" y1="366.70" x2="508.50" y2="366.70" stroke-width="1.6"/>
<line x1="307.00" y1="362.30" x2="310.40" y2="362.30" stroke-width="1.3"/>
<line x1="308.80" y1="350.20" x2="310.40" y2="350.20" stroke-width="1.1"/>
<line x1="307.00" y1="338.10" x2="310.40" y2="338.10" stroke-width="1.3"/>
<line x1="308.80" y1="326.00" x2="310.40" y2="326.00" stroke-width="1.1"/>
<line x1="307.00" y1="313.90" x2="310.40" y2="313.90" stroke-width="1.3"/>
<line x1="308.80" y1="301.80" x2="310.40" y2="301.80" stroke-width="1.1"/>
<line x1="307.00" y1="289.70" x2="310.40" y2="289.70" stroke-width="1.3"/>
<line x1="308.80" y1="277.60" x2="310.40" y2="277.60" stroke-width="1.1"/>
<line x1="307.00" y1="265.50" x2="310.40" y2="265.50" stroke-width="1.3"/>
<line x1="308.80" y1="253.40" x2="310.40" y2="253.40" stroke-width="1.1"/>
<line x1="307.00" y1="241.30" x2="310.40" y2="241.30" stroke-width="1.3"/>
<line x1="310.40" y1="366.70" x2="310.40" y2="369.70" stroke-width="1.3"/>
<line x1="320.68" y1="366.70" x2="320.68" y2="368.30" stroke-width="1.1"/>
<line x1="330.96" y1="366.70" x2="330.96" y2="369.70" stroke-width="1.3"/>
<line x1="341.23" y1="366.70" x2="341.23" y2="368.30" stroke-width="1.1"/>
<line x1="351.51" y1="366.70" x2="351.51" y2="369.70" stroke-width="1.3"/>
<line x1="361.79" y1="366.70" x2="361.79" y2="368.30" stroke-width="1.1"/>
<line x1="372.07" y1="366.70" x2="372.07" y2="369.70" stroke-width="1.3"/>
<line x1="382.35" y1="366.70" x2="382.35" y2="368.30" stroke-width="1.1"/>
<line x1="392.62" y1="366.70" x2="392.62" y2="369.70" stroke-width="1.3"/>
<line x1="402.90" y1="366.70" x2="402.90" y2="368.30" stroke-width="1.1"/>
<line x1="413.18" y1="366.70" x2="413.18" y2="369.70" stroke-width="1.3"/>
<line x1="423.46" y1="366.70" x2="423.46" y2="368.30" stroke-width="1.1"/>
<line x1="433.74" y1="366.70" x2="433.74" y2="369.70" stroke-width="1.3"/>
<line x1="444.01" y1="366.70" x2="444.01" y2="368.30" stroke-width="1.1"/>
<line x1="454.29" y1="366.70" x2="454.29" y2="369.70" stroke-width="1.3"/>
<line x1="464.57" y1="366.70" x2="464.57" y2="368.30" stroke-width="1.1"/>
<line x1="474.85" y1="366.70" x2="474.85" y2="369.70" stroke-width="1.3"/>
<line x1="485.13" y1="366.70" x2="485.13" y2="368.30" stroke-width="1.1"/>
<line x1="495.40" y1="366.70" x2="495.40" y2="369.70" stroke-width="1.3"/>
</g>
<text transform="translate(303.80,365.15) scale(0.930,1)" font-size="8.00" text-anchor="end" fill="#1e1e1e">0.0</text>
<text transform="translate(303.80,340.95) scale(0.930,1)" font-size="8.00" text-anchor="end" fill="#1e1e1e">0.2</text>
<text transform="translate(303.80,316.75) scale(0.930,1)" font-size="8.00" text-anchor="end" fill="#1e1e1e">0.4</text>
<text transform="translate(303.80,292.55) scale(0.930,1)" font-size="8.00" text-anchor="end" fill="#1e1e1e">0.6</text>
<text transform="translate(303.80,268.35) scale(0.930,1)" font-size="8.00" text-anchor="end" fill="#1e1e1e">0.8</text>
<text transform="translate(303.80,244.15) scale(0.930,1)" font-size="8.00" text-anchor="end" fill="#1e1e1e">1.0</text>
<text transform="translate(310.40,380.40) scale(1.000,1)" font-size="8.10" text-anchor="middle" fill="#1e1e1e">0</text>
<text transform="translate(330.96,380.40) scale(1.000,1)" font-size="8.10" text-anchor="middle" fill="#1e1e1e">12</text>
<text transform="translate(351.51,380.40) scale(1.000,1)" font-size="8.10" text-anchor="middle" fill="#1e1e1e">24</text>
<text transform="translate(372.07,380.40) scale(1.000,1)" font-size="8.10" text-anchor="middle" fill="#1e1e1e">36</text>
<text transform="translate(392.62,380.40) scale(1.000,1)" font-size="8.10" text-anchor="middle" fill="#1e1e1e">48</text>
<text transform="translate(413.18,380.40) scale(1.000,1)" font-size="8.10" text-anchor="middle" fill="#1e1e1e">60</text>
<text transform="translate(433.74,380.40) scale(1.000,1)" font-size="8.10" text-anchor="middle" fill="#1e1e1e">72</text>
<text transform="translate(454.29,380.40) scale(1.000,1)" font-size="8.10" text-anchor="middle" fill="#1e1e1e">84</text>
<text transform="translate(474.85,380.40) scale(1.000,1)" font-size="8.10" text-anchor="middle" fill="#1e1e1e">96</text>
<text transform="translate(495.40,380.40) scale(1.000,1)" font-size="8.10" text-anchor="middle" fill="#1e1e1e">108</text>
<text transform="translate(265.60,231.70) scale(1.07,1)" font-size="10.5" font-weight="bold" fill="#000" style="stroke:#000;stroke-width:0.45px">D</text>
<text transform="translate(285.20,301.00) rotate(-90) scale(0.740,1)" font-size="8.8" text-anchor="middle" fill="#1e1e1e">Overall survival probability</text>
<path d="M328.99,253.10v2.4M334.59,253.10v2.4M340.29,253.10v2.4M344.01,253.10v2.4M353.49,257.50v2.4M358.10,257.50v2.4M365.50,257.50v2.4M369.60,257.50v2.4M373.01,257.50v2.4M381.02,257.50v2.4M386.93,257.50v2.4M390.96,257.50v2.4M405.05,270.80v2.4M410.97,270.80v2.4M419.03,276.60v2.4M425.77,276.60v2.4M433.63,283.50v2.4M437.76,283.50v2.4M444.88,283.50v2.4M450.82,283.50v2.4M457.97,283.50v2.4M462.91,283.50v2.4M467.31,283.50v2.4M474.63,283.50v2.4" stroke="#5a984c" stroke-width="0.9" fill="none"/>
<path d="M310.40,240.90 L313.00,240.90 L313.00,245.10 L317.20,245.10 L317.20,249.70 L324.50,249.70 L324.50,254.30 L346.50,254.30 L346.50,256.60 L350.30,256.60 L350.30,258.70 L397.20,258.70 L397.20,263.30 L399.80,263.30 L399.80,267.90 L402.50,267.90 L402.50,272.00 L414.80,272.00 L414.80,277.80 L430.40,277.80 L430.40,284.70 L476.30,284.70" fill="none" stroke="#5a984c" stroke-width="1.45" stroke-linejoin="miter" stroke-linecap="butt"/>
<path d="M314.61,239.70v2.4M331.34,247.70v2.4M357.25,263.10v2.4M363.12,263.10v2.4M368.18,263.10v2.4M379.46,271.30v2.4M384.14,271.30v2.4M388.72,271.30v2.4M395.45,271.30v2.4M403.48,271.30v2.4M409.00,271.30v2.4M415.28,276.60v2.4M423.30,276.60v2.4M428.41,276.60v2.4M432.80,276.60v2.4M437.22,276.60v2.4M441.50,276.60v2.4M445.81,276.60v2.4M452.20,276.60v2.4M459.95,276.60v2.4M467.41,276.60v2.4M473.09,276.60v2.4M479.62,276.60v2.4" stroke="#d68f36" stroke-width="0.9" fill="none"/>
<path d="M310.40,240.90 L322.60,240.90 L322.60,244.70 L327.20,244.70 L327.20,248.90 L339.10,248.90 L339.10,253.10 L346.50,253.10 L346.50,256.60 L351.20,256.60 L351.20,259.50 L354.30,259.50 L354.30,264.30 L372.30,264.30 L372.30,268.60 L376.90,268.60 L376.90,272.50 L410.80,272.50 L410.80,277.80 L487.30,277.80" fill="none" stroke="#d68f36" stroke-width="1.45" stroke-linejoin="miter" stroke-linecap="butt"/>
<line x1="464.00" y1="347.10" x2="481.00" y2="347.10" stroke="#4f8045" stroke-width="1.55"/>
<text transform="translate(484.80,349.85) scale(0.937,1)" font-size="7.90" text-anchor="start" fill="#1e1e1e">FCR</text>
<line x1="464.00" y1="356.80" x2="481.00" y2="356.80" stroke="#d68f36" stroke-width="1.55"/>
<text transform="translate(484.80,359.55) scale(0.937,1)" font-size="7.90" text-anchor="start" fill="#1e1e1e">FCR+L</text>
<text transform="translate(265.70,394.60) scale(0.911,1)" font-size="7.90" text-anchor="start" fill="#1e1e1e">No. at Risk</text>
<text transform="translate(409.00,393.60) scale(0.64,1)" font-size="9.6" font-weight="bold" text-anchor="middle" fill="#111">Months</text>
<text transform="translate(265.70,406.15) scale(0.911,1)" font-size="7.90" text-anchor="start" fill="#1e1e1e">FCR</text>
<text transform="translate(310.40,406.15) scale(1.000,1)" font-size="8.00" text-anchor="middle" fill="#1e1e1e">27</text>
<text transform="translate(330.96,406.15) scale(1.000,1)" font-size="8.00" text-anchor="middle" fill="#1e1e1e">24</text>
<text transform="translate(351.51,406.15) scale(1.000,1)" font-size="8.00" text-anchor="middle" fill="#1e1e1e">23</text>
<text transform="translate(372.07,406.15) scale(1.000,1)" font-size="8.00" text-anchor="middle" fill="#1e1e1e">23</text>
<text transform="translate(392.62,406.15) scale(1.000,1)" font-size="8.00" text-anchor="middle" fill="#1e1e1e">23</text>
<text transform="translate(413.18,406.15) scale(1.000,1)" font-size="8.00" text-anchor="middle" fill="#1e1e1e">19</text>
<text transform="translate(433.74,406.15) scale(1.000,1)" font-size="8.00" text-anchor="middle" fill="#1e1e1e">11</text>
<text transform="translate(454.29,406.15) scale(1.000,1)" font-size="8.00" text-anchor="middle" fill="#1e1e1e">4</text>
<text transform="translate(474.85,406.15) scale(1.000,1)" font-size="8.00" text-anchor="middle" fill="#1e1e1e">1</text>
<text transform="translate(495.40,406.15) scale(1.000,1)" font-size="8.00" text-anchor="middle" fill="#1e1e1e">0</text>
<text transform="translate(265.70,417.70) scale(0.911,1)" font-size="7.90" text-anchor="start" fill="#1e1e1e">FCR+L</text>
<text transform="translate(310.40,417.70) scale(1.000,1)" font-size="8.00" text-anchor="middle" fill="#1e1e1e">31</text>
<text transform="translate(330.96,417.70) scale(1.000,1)" font-size="8.00" text-anchor="middle" fill="#1e1e1e">29</text>
<text transform="translate(351.51,417.70) scale(1.000,1)" font-size="8.00" text-anchor="middle" fill="#1e1e1e">26</text>
<text transform="translate(372.07,417.70) scale(1.000,1)" font-size="8.00" text-anchor="middle" fill="#1e1e1e">24</text>
<text transform="translate(392.62,417.70) scale(1.000,1)" font-size="8.00" text-anchor="middle" fill="#1e1e1e">21</text>
<text transform="translate(413.18,417.70) scale(1.000,1)" font-size="8.00" text-anchor="middle" fill="#1e1e1e">16</text>
<text transform="translate(433.74,417.70) scale(1.000,1)" font-size="8.00" text-anchor="middle" fill="#1e1e1e">11</text>
<text transform="translate(454.29,417.70) scale(1.000,1)" font-size="8.00" text-anchor="middle" fill="#1e1e1e">5</text>
<text transform="translate(474.85,417.70) scale(1.000,1)" font-size="8.00" text-anchor="middle" fill="#1e1e1e">1</text>
<text transform="translate(495.40,417.70) scale(1.000,1)" font-size="8.00" text-anchor="middle" fill="#1e1e1e">0</text>
<rect x="0" y="0" width="520" height="1.1" fill="#000"/>
<rect x="0" y="0" width="1.4" height="438" fill="#000"/>
<rect x="518.3" y="0" width="1.7" height="438" fill="#000"/>
<rect x="0" y="436" width="520" height="2" fill="#111"/>
</svg></body></html>
